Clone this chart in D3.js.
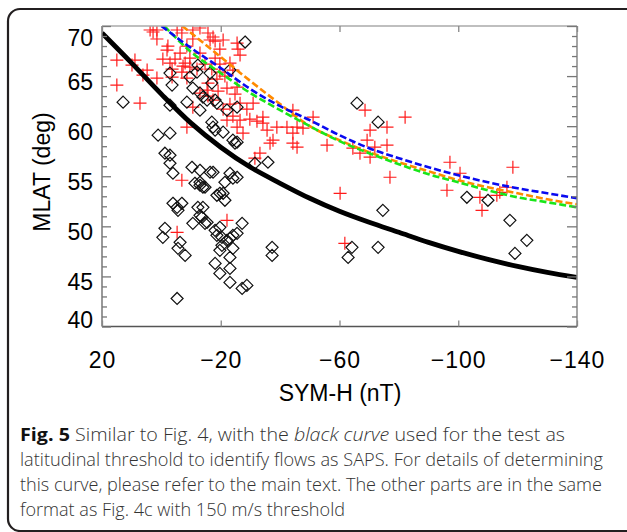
<!DOCTYPE html>
<html>
<head>
<meta charset="utf-8">
<script src="https://cdn.jsdelivr.net/npm/d3@7"></script>
<style>
  html, body { margin: 0; padding: 0; background: #fff; }
  svg { display: block; }
</style>
</head>
<body>
<svg id="chart" width="627" height="532"></svg>
<script>
// ---------------- data (SYM-H in nT, MLAT in deg) ----------------
const xTicks = [20, -20, -60, -100, -140];
const yTicks = [40, 45, 50, 55, 60, 65, 70];

// red "+" points
const crosses = [
  [3.8,69.6],[2.8,69.4],[1.5,69.6],[-5.3,69.6],[-6.9,69.3],[-10.6,69.6],[-13.0,69.8],[-15.7,69.3],
  [15.0,66.6],[8.9,66.6],[9.9,66.1],[15.0,64.1],[4.8,65.6],[6.2,65.1],[7.2,62.3],[1.5,64.8],
  [1.5,68.7],[-2.2,68.0],[-0.5,66.7],[-4.6,66.7],[-6.3,67.3],[-7.3,66.0],[-3.6,65.7],[-8.6,68.0],
  [-9.6,66.8],[-13.0,67.3],[-10.6,68.7],[-18.1,68.5],[-19.7,67.7],[-12.0,65.7],[-14.7,66.2],[-17.0,65.7],
  [-19.7,66.2],[-18.7,64.7],[-21.4,65.0],[-15.7,64.3],[-19.1,63.5],[-22.1,63.8],[-24.8,63.2],[-26.5,62.3],
  [-23.1,62.2],[-20.8,61.7],[-24.1,61.0],[-28.8,61.7],[-29.8,60.7],[-32.2,60.5],[-25.8,67.7],[-25.5,68.3],
  [-15.7,63.0],[-13.0,63.3],[-17.4,68.9],[-26.5,67.1],[-23.1,66.3],[-24.1,65.6],[-8.6,64.8],[-1.9,67.6],
  [-2.9,66.3],[-8.6,59.9],[-6.9,54.6],[-17.4,62.6],[-26.5,60.6],[-25.5,59.9],[-27.5,59.3],[-30.9,62.3],
  [-34.2,60.3],[-35.6,59.6],[-38.9,59.9],[-37.6,58.6],[-36.6,58.3],[-42.3,59.9],[-44.3,59.3],[-45.7,59.9],
  [-44.3,61.6],[-44.3,58.3],[-45.7,57.9],[-51.1,60.9],[-33.2,57.3],[-31.5,56.8],[-47.7,59.8],[-55.8,58.1],
  [-68.6,61.6],[-70.3,59.6],[-69.3,58.6],[-76.0,59.9],[-76.0,58.1],[-71.9,57.9],[-66.9,57.3],[-70.3,56.9],
  [-64.5,57.8],[-82.1,60.9],[-77.0,54.9],[-97.2,56.4],[-100.6,55.3],[-118.4,55.9],[-60.2,53.3],[-96.2,53.6],
  [-107.3,52.9],[-114.0,53.4],[-116.4,53.9],[-108.0,51.6],[-113.0,53.1],[-61.8,48.3],[-5.3,49.4],[-22.1,50.6],
  [-8.0,66.3],[-6.9,65.4],[-3.6,64.9],[-16.4,68.6],[-20.8,68.6],[-18.1,66.8],[-19.7,65.4],[-15.4,63.6],
  [-25.5,63.9],[-22.1,60.6],[-34.2,60.9],[-10.6,61.9],[-9.6,65.9]
];

// black diamond points
const diamonds = [
  [-28.2,68.4],[12.9,62.4],[-2.9,65.3],[-3.6,64.1],[-8.6,62.4],[-12.3,66.1],[-12.0,65.4],[-9.6,64.9],
  [-10.6,63.8],[-16.4,65.3],[-17.0,64.3],[-13.0,63.3],[-14.0,62.9],[-15.4,62.6],[-18.1,62.6],[-18.7,62.3],
  [-23.1,65.6],[-22.1,61.6],[-25.5,61.9],[-13.0,61.6],[-2.9,62.1],[-17.0,60.4],[-17.4,59.9],[-18.1,59.6],
  [-20.8,59.4],[-24.1,58.6],[-24.8,58.3],[-25.5,58.4],[-31.5,56.3],[-35.9,56.4],[1.1,59.1],[-2.9,59.3],
  [-1.2,57.3],[-2.9,57.1],[-2.9,56.3],[-3.9,55.3],[-10.3,55.9],[-13.0,55.6],[-11.3,54.3],[-13.0,54.4],
  [-14.0,53.9],[-17.4,55.4],[-19.7,53.3],[-23.1,55.3],[-24.1,54.8],[-25.5,54.9],[-21.4,54.4],[-3.9,52.3],
  [-5.3,51.9],[-6.9,52.3],[-1.2,49.8],[-0.5,48.9],[-6.3,48.4],[-5.6,47.8],[-8.0,47.1],[-5.3,42.8],
  [-10.6,50.3],[-12.3,51.9],[-14.0,51.9],[-13.0,51.1],[-13.7,50.9],[-14.7,50.3],[-15.4,50.4],[-13.0,54.1],
  [-14.7,53.9],[-18.7,53.1],[-20.8,53.3],[-21.4,52.6],[-19.7,49.9],[-18.7,49.1],[-20.4,48.9],[-22.1,48.6],
  [-23.1,48.8],[-24.1,49.1],[-25.5,49.3],[-27.2,50.3],[-24.1,47.8],[-23.1,46.9],[-18.1,46.3],[-19.7,45.3],
  [-23.1,45.8],[-23.1,44.4],[-27.2,43.8],[-28.8,44.1],[-37.3,47.9],[-37.3,47.1],[-20.4,48.1],[-19.7,47.6],
  [-74.6,51.6],[-64.2,47.9],[-62.9,46.9],[-73.0,47.9],[-102.9,52.9],[-110.0,52.6],[-117.4,50.6],[-123.1,48.6],
  [-119.1,47.3],[-65.9,62.3],[-73.0,60.4],[-16.4,55.4],[-5.6,51.6],[-18.1,49.6]
];

// threshold curves
const blackCurve = [
  [20,69.3],[10,66.3],[0,63.2],[-10,60.3],[-20,57.9],[-30,55.9],[-40,54.3],[-50,52.8],[-60,51.5],
  [-70,50.4],[-80,49.4],[-90,48.4],[-100,47.5],[-110,46.7],[-120,46.0],[-130,45.4],[-140,44.9]
];
const orangeCurve = [
  [-7,70.0],[-10,69.3],[-20,66.9],[-30,64.5],[-40,62.2],[-50,60.0],[-60,58.6],[-70,57.4],[-80,56.4],
  [-90,55.5],[-100,54.6],[-110,53.9],[-120,53.3],[-130,52.7],[-140,52.2]
];
const greenCurve = [
  [-1,70.0],[-10,67.4],[-20,65.3],[-30,63.3],[-40,61.6],[-50,60.0],[-60,58.5],[-70,57.3],[-80,56.2],
  [-90,55.2],[-100,54.4],[-110,53.6],[-120,52.9],[-130,52.4],[-140,51.9]
];
const blueCurve = [
  [0,70.0],[-10,67.8],[-20,65.8],[-30,63.7],[-40,62.0],[-50,60.6],[-60,59.1],[-70,57.8],[-80,56.8],
  [-90,55.9],[-100,55.1],[-110,54.4],[-120,53.8],[-130,53.3],[-140,52.8]
];

const captionLines = [
  [{t:"Fig. 5", w:"bold", c:"#111"}, {t:" Similar to Fig. 4, with the "}, {t:"black curve", s:"italic"}, {t:" used for the test as"}],
  [{t:"latitudinal threshold to identify flows as SAPS. For details of determining"}],
  [{t:"this curve, please refer to the main text. The other parts are in the same"}],
  [{t:"format as Fig. 4c with 150 m/s threshold"}]
];
const captionWidths = [545, 583, 582, 325];

// ---------------- drawing ----------------
const svg = d3.select("#chart");
const L = 102, R = 577, T = 26, B = 326.5;
const x = d3.scaleLinear().domain([20, -140]).range([L, R]);
const y = d3.scaleLinear().domain([40, 70]).range([B, T]);
const fmt = v => String(v).replace("-", "\u2212");

svg.append("rect").attr("width", 627).attr("height", 532).attr("fill", "#fff");

// outer rounded frame
svg.append("rect")
  .attr("x", 8).attr("y", 9).attr("width", 640).attr("height", 522)
  .attr("rx", 12).attr("fill", "none").attr("stroke", "#231f20").attr("stroke-width", 2.2);

svg.append("defs").append("clipPath").attr("id", "plotclip")
  .append("rect").attr("x", L).attr("y", T).attr("width", R - L).attr("height", B - T);

// scatter
const plot = svg.append("g").attr("clip-path", "url(#plotclip)");
plot.append("g").selectAll("path").data(crosses).join("path")
  .attr("transform", d => `translate(${x(d[0])},${y(d[1])})`)
  .attr("d", "M-6.5,0H6.5M0,-6.5V6.5")
  .attr("stroke", "#ff1a1a").attr("stroke-width", 1.2).attr("fill", "none");
plot.append("g").selectAll("path").data(diamonds).join("path")
  .attr("transform", d => `translate(${x(d[0])},${y(d[1])})`)
  .attr("d", "M0,-6L6,0L0,6L-6,0Z")
  .attr("stroke", "#111").attr("stroke-width", 1.2).attr("fill", "none");

// curves
const line = d3.line().x(d => x(d[0])).y(d => y(d[1])).curve(d3.curveMonotoneX);
plot.append("path").datum(blackCurve).attr("d", line)
  .attr("fill", "none").attr("stroke", "#000").attr("stroke-width", 4.8);
plot.append("path").datum(orangeCurve).attr("d", line)
  .attr("fill", "none").attr("stroke", "#ff8a00").attr("stroke-width", 2.6).attr("stroke-dasharray", "7,3");
plot.append("path").datum(greenCurve).attr("d", line)
  .attr("fill", "none").attr("stroke", "#19e619").attr("stroke-width", 2.6).attr("stroke-dasharray", "7,3");
plot.append("path").datum(blueCurve).attr("d", line)
  .attr("fill", "none").attr("stroke", "#0a0af0").attr("stroke-width", 2.6).attr("stroke-dasharray", "7,3");

// frame
const frame = svg.append("g").attr("fill", "none");
frame.append("line").attr("x1", L).attr("x2", R).attr("y1", T).attr("y2", T).attr("stroke", "#aaa").attr("stroke-width", 1.5);
frame.append("line").attr("x1", R).attr("x2", R).attr("y1", T).attr("y2", B).attr("stroke", "#888").attr("stroke-width", 1.5);
frame.append("line").attr("x1", L).attr("x2", L).attr("y1", T).attr("y2", B).attr("stroke", "#777").attr("stroke-width", 1.5);
frame.append("line").attr("x1", L).attr("x2", R).attr("y1", B).attr("y2", B).attr("stroke", "#555").attr("stroke-width", 1.5);

// axes (ticks drawn inward)
const minorY = d3.range(40, 71, 1);
const fontAxis = "'Liberation Sans', Arial, Helvetica, sans-serif";

const yLeft = svg.append("g").attr("transform", `translate(${L},0)`)
  .call(d3.axisRight(y).tickValues(minorY).tickSize(0).tickFormat(""));
yLeft.select(".domain").remove();
yLeft.selectAll(".tick line").attr("x2", d => d % 5 === 0 ? 9 : 5).attr("stroke", "#777").attr("stroke-width", 1.3);

const yRight = svg.append("g").attr("transform", `translate(${R},0)`)
  .call(d3.axisLeft(y).tickValues(minorY).tickSize(0).tickFormat(""));
yRight.select(".domain").remove();
yRight.selectAll(".tick line").attr("x2", d => d % 5 === 0 ? -10 : -5).attr("stroke", "#777").attr("stroke-width", 1.3);

// y labels
const yLab = svg.append("g").attr("transform", `translate(${L},0)`)
  .call(d3.axisLeft(y).tickValues(yTicks).tickSize(0).tickPadding(9).tickFormat(fmt));
yLab.select(".domain").remove();
yLab.selectAll(".tick line").remove();
yLab.selectAll(".tick text")
  .attr("font-family", fontAxis).attr("font-size", 23).attr("fill", "#000")
  .attr("dy", null).attr("dominant-baseline", "central")
  .attr("y", d => Math.min(Math.max(5, T + 11 - y(d)), B - 7 - y(d)));

const xTop = svg.append("g").attr("transform", `translate(0,${T})`)
  .call(d3.axisBottom(x).tickValues(xTicks).tickSize(6).tickFormat(""));
xTop.select(".domain").remove();
xTop.selectAll(".tick line").attr("stroke", "#888").attr("stroke-width", 1.3);

const xBot = svg.append("g").attr("transform", `translate(0,${B})`)
  .call(d3.axisTop(x).tickValues(xTicks).tickSize(6).tickFormat(""));
xBot.select(".domain").remove();
xBot.selectAll(".tick line").attr("stroke", "#888").attr("stroke-width", 1.3);

const xLab = svg.append("g").attr("transform", `translate(0,${B})`)
  .call(d3.axisBottom(x).tickValues(xTicks).tickSize(0).tickFormat(fmt));
xLab.select(".domain").remove();
xLab.selectAll(".tick line").remove();
xLab.selectAll(".tick text")
  .attr("font-family", fontAxis).attr("font-size", 23).attr("fill", "#000")
  .attr("letter-spacing", 1)
  .attr("dy", null).attr("y", 368 - B);

// axis titles
svg.append("text").attr("x", 340).attr("y", 401).attr("text-anchor", "middle")
  .attr("font-family", fontAxis).attr("font-size", 23).attr("fill", "#000").text("SYM-H (nT)");
svg.append("text").attr("transform", "translate(50,172) rotate(-90)").attr("text-anchor", "middle")
  .attr("font-family", fontAxis).attr("font-size", 23).attr("fill", "#000").text("MLAT (deg)");

// caption
const cap = svg.append("g").attr("font-family", "'Open Sans', 'Noto Sans', sans-serif")
  .attr("font-size", 18).attr("font-weight", 300).attr("fill", "#333");
captionLines.forEach((parts, i) => {
  const t = cap.append("text").attr("x", 20).attr("y", 441 + i * 25)
    .attr("textLength", captionWidths[i]).attr("lengthAdjust", "spacingAndGlyphs");
  parts.forEach(p => {
    const ts = t.append("tspan").text(p.t);
    if (p.w) ts.attr("font-weight", p.w);
    if (p.s) ts.attr("font-style", p.s);
    if (p.c) ts.attr("fill", p.c);
  });
});
</script>
</body>
</html>
